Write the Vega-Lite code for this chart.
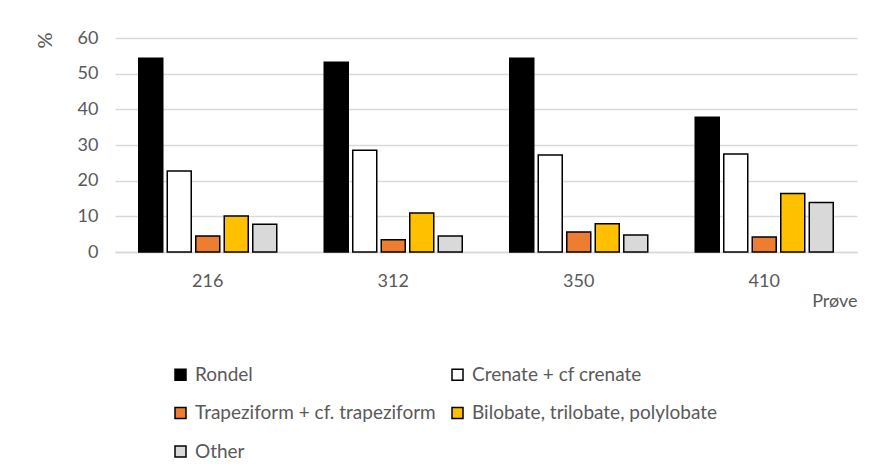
{
  "$schema": "https://vega.github.io/schema/vega-lite/v6.json",
  "autosize": {"type": "none"},
  "padding": {"left": 115, "top": 38, "right": 12, "bottom": 223},
  "width": 742,
  "height": 214,
  "background": "white",
  "config": {
    "view": {"stroke": null},
    "font": "Lato",
    "axis": {"labelFont": "Lato", "titleFont": "Lato", "labelColor": "#595959", "titleColor": "#595959", "labelFontSize": 18, "titleFontSize": 18, "titleFontWeight": "normal"},
    "legend": {"labelFont": "Lato", "labelColor": "#595959", "labelFontSize": 19}
  },
  "data": {
    "values": [
      {"sample": "216", "type": "Rondel", "value": 54.3},
      {"sample": "216", "type": "Crenate + cf crenate", "value": 22.7},
      {"sample": "216", "type": "Trapeziform + cf. trapeziform", "value": 4.5},
      {"sample": "216", "type": "Bilobate, trilobate, polylobate", "value": 10.1},
      {"sample": "216", "type": "Other", "value": 7.8},
      {"sample": "312", "type": "Rondel", "value": 53.2},
      {"sample": "312", "type": "Crenate + cf crenate", "value": 28.5},
      {"sample": "312", "type": "Trapeziform + cf. trapeziform", "value": 3.4},
      {"sample": "312", "type": "Bilobate, trilobate, polylobate", "value": 10.9},
      {"sample": "312", "type": "Other", "value": 4.5},
      {"sample": "350", "type": "Rondel", "value": 54.3},
      {"sample": "350", "type": "Crenate + cf crenate", "value": 27.2},
      {"sample": "350", "type": "Trapeziform + cf. trapeziform", "value": 5.6},
      {"sample": "350", "type": "Bilobate, trilobate, polylobate", "value": 7.9},
      {"sample": "350", "type": "Other", "value": 4.8},
      {"sample": "410", "type": "Rondel", "value": 37.8},
      {"sample": "410", "type": "Crenate + cf crenate", "value": 27.5},
      {"sample": "410", "type": "Trapeziform + cf. trapeziform", "value": 4.2},
      {"sample": "410", "type": "Bilobate, trilobate, polylobate", "value": 16.4},
      {"sample": "410", "type": "Other", "value": 13.9}
    ]
  },
  "mark": {"type": "bar", "stroke": "black", "strokeWidth": 1.5, "cornerRadius": 0},
  "encoding": {
    "x": {
      "field": "sample", "type": "nominal", "sort": ["216", "312", "350", "410"],
      "scale": {"paddingInner": 0.256, "paddingOuter": 0.128},
      "axis": {
        "title": "Prøve", "labelAngle": 0, "ticks": false, "domain": true, "domainColor": "#d9d9d9", "domainWidth": 1.5,
        "labelPadding": 20, "titleX": 742, "titleY": 49, "titleAlign": "right", "titleBaseline": "middle"
      }
    },
    "xOffset": {
      "field": "type", "type": "nominal",
      "sort": ["Rondel", "Crenate + cf crenate", "Trapeziform + cf. trapeziform", "Bilobate, trilobate, polylobate", "Other"],
      "scale": {"paddingInner": 0.158, "paddingOuter": 0}
    },
    "y": {
      "field": "value", "type": "quantitative",
      "scale": {"domain": [0, 60], "nice": false},
      "axis": {
        "title": "%", "titleFontSize": 20, "values": [0, 10, 20, 30, 40, 50, 60], "ticks": false, "domain": false,
        "gridColor": "#d9d9d9", "gridWidth": 1.5, "labelPadding": 17,
        "titleX": -70, "titleY": 2, "titleAngle": -90, "titleAlign": "center", "titleBaseline": "middle"
      }
    },
    "fill": {
      "field": "type", "type": "nominal",
      "sort": ["Rondel", "Crenate + cf crenate", "Trapeziform + cf. trapeziform", "Bilobate, trilobate, polylobate", "Other"],
      "scale": {
        "domain": ["Rondel", "Crenate + cf crenate", "Trapeziform + cf. trapeziform", "Bilobate, trilobate, polylobate", "Other"],
        "range": ["#000000", "#ffffff", "#ed7d31", "#ffc000", "#d9d9d9"]
      },
      "legend": {
        "title": null, "orient": "none", "legendX": 56, "legendY": 327, "direction": "horizontal", "columns": 2,
        "columnPadding": 12, "rowPadding": 18.5, "symbolType": "square", "symbolSize": 121,
        "symbolStrokeColor": "black", "symbolStrokeWidth": 1.5, "labelOffset": 5, "labelLimit": 400
      }
    }
  }
}
